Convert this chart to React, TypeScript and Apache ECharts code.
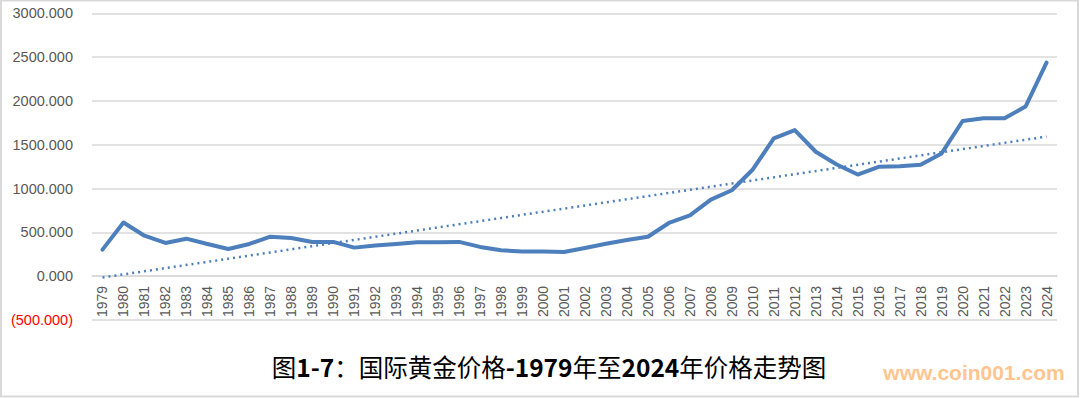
import React, { useEffect, useRef } from "react";
import * as echarts from "echarts";

const years: string[] = [
  "1979", "1980", "1981", "1982", "1983", "1984", "1985", "1986", "1987", "1988",
  "1989", "1990", "1991", "1992", "1993", "1994", "1995", "1996", "1997", "1998",
  "1999", "2000", "2001", "2002", "2003", "2004", "2005", "2006", "2007", "2008",
  "2009", "2010", "2011", "2012", "2013", "2014", "2015", "2016", "2017", "2018",
  "2019", "2020", "2021", "2022", "2023", "2024",
];

const prices: number[] = [
  303, 613, 462, 379, 428, 368, 311, 368, 451, 436,
  391, 391, 326, 349, 368, 386, 386, 391, 334, 295,
  281, 281, 275, 321, 370, 412, 450, 607, 694, 874,
  981, 1218, 1573, 1668, 1420, 1275, 1160, 1248, 1255, 1271,
  1401, 1771, 1802, 1802, 1936, 2437,
];

// Linear trendline endpoints
const trendYears: string[] = ["1979", "2024"];
const trendValues: number[] = [-15, 1593];

const yMin = -500;
const yMax = 3000;
const yStep = 500;

const titleParts: { t: string; s: string }[] = [
  { t: "图", s: "c" },
  { t: "1-7", s: "b" },
  { t: "：国际黄金价格", s: "c" },
  { t: "-1979", s: "b" },
  { t: "年至", s: "c" },
  { t: "2024", s: "b" },
  { t: "年价格走势图", s: "c" },
];
const watermark = "www.coin001.com";

export default function App() {
  const ref = useRef<HTMLDivElement>(null);
  useEffect(() => {
    if (!ref.current) return;
    const chart = echarts.init(ref.current, null, { renderer: "svg" });
    const blue = "#4d7fbc";
    const grey = "#595959";
    chart.setOption({
      animation: false,
      backgroundColor: "#ffffff",
      grid: { left: 92, right: 23, top: 13.3, bottom: 78, containLabel: false },
      xAxis: {
        type: "category",
        data: years,
        boundaryGap: true,
        axisLine: { show: true, lineStyle: { color: "#d9d9d9", width: 1.5 } },
        axisTick: { show: false },
        axisLabel: {
          inside: true,
          rotate: 90,
          interval: 0,
          margin: 3,
          color: grey,
          fontSize: 14,
          fontFamily: "Liberation Sans",
        },
        splitLine: { show: false },
      },
      yAxis: {
        type: "value",
        min: yMin,
        max: yMax,
        interval: yStep,
        axisLine: { show: false },
        axisTick: { show: false },
        splitLine: { show: true, lineStyle: { color: "#d9d9d9", width: 1.5 } },
        axisLabel: {
          margin: 19,
          color: grey,
          fontSize: 14.5,
          fontFamily: "Liberation Sans",
          formatter: (v: number) =>
            v < 0 ? "{neg|(" + Math.abs(v).toFixed(3) + ")}" : v.toFixed(3),
          rich: {
            neg: { color: "#ff0000", fontSize: 14.5, fontFamily: "Liberation Sans" },
          },
        },
      },
      series: [
        {
          type: "line",
          data: prices,
          showSymbol: false,
          symbol: "none",
          lineStyle: { color: blue, width: 4, join: "round", cap: "round" },
          z: 2,
        },
        {
          type: "line",
          data: trendYears.map((y, i) => [y, trendValues[i]]),
          showSymbol: false,
          symbol: "none",
          lineStyle: { color: blue, width: 2.5, type: [2, 4] },
          z: 3,
        },
      ],
      graphic: [
        {
          type: "rect",
          shape: { x: 1, y: 0.5, width: 1077, height: 396 },
          style: { fill: "none", stroke: "#d9d9d9", lineWidth: 2 },
          silent: true,
        },
        {
          type: "text",
          x: 549,
          y: 366,
          style: {
            text: titleParts.map((p) => "{" + p.s + "|" + p.t + "}").join(""),
            align: "center",
            verticalAlign: "middle",
            rich: {
              c: { fontSize: 24.5, fontFamily: "Noto Sans CJK SC", color: "#606060", fontWeight: "normal" },
              b: { fontSize: 24.5, fontFamily: "Noto Sans CJK SC", color: "#606060", fontWeight: "bold" },
            },
          },
        },
        {
          type: "text",
          x: 974,
          y: 372,
          style: {
            text: watermark,
            align: "center",
            verticalAlign: "middle",
            fontSize: 21,
            fontWeight: "bold",
            fontFamily: "Liberation Sans",
            fill: "#ffc590",
          },
        },
      ],
    });
    return () => chart.dispose();
  }, []);
  return (
    <div
      ref={ref}
      style={{ position: "fixed", left: 0, top: 0, width: 1080, height: 398 }}
    />
  );
}
